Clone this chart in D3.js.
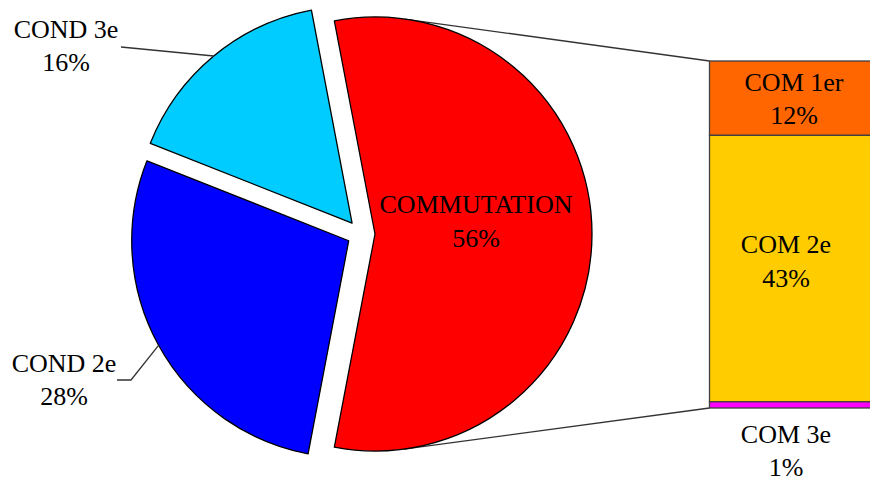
<!DOCTYPE html>
<html>
<head>
<meta charset="utf-8">
<script src="https://cdn.jsdelivr.net/npm/d3@7/dist/d3.min.js"></script>
<style>
  html, body { margin: 0; padding: 0; background: #fff; }
  svg { display: block; }
  text { font-family: "Liberation Serif", "Times New Roman", serif; font-size: 26px; fill: #000; }
</style>
</head>
<body>
<svg id="chart" width="870" height="482"></svg>
<script>
// Main pie: share of each category (%)
const pieLabels = ["COMMUTATION", "COND 2e", "COND 3e"];
const pieValues = [56, 28, 16];
const pieColors = ["#FF0000", "#0000FF", "#00CCFF"];

// Breakdown of COMMUTATION shown in the stacked bar (%)
const barLabels = ["COM 1er", "COM 2e", "COM 3e"];
const barValues = [12, 43, 1];
const barColors = ["#FF6600", "#FFCC00", "#FF00FF"];

const svg = d3.select("#chart");

const cx = 361, cy = 234, r = 217, explode = 14;
const barX0 = 709.5, barX1 = 872, barTop = 61, barBottom = 408;

// Rotate so the COMMUTATION slice faces the bar on the right
const total = d3.sum(pieValues);
const first = pieValues[0] / total;
const startAngle = Math.PI / 2 - first * Math.PI;

const pie = d3.pie().sort(null).value(d => d)
  .startAngle(startAngle).endAngle(startAngle + 2 * Math.PI);
const arcs = pie(pieValues);
const arc = d3.arc().innerRadius(0).outerRadius(r);

function offset(a) {
  const m = (a.startAngle + a.endAngle) / 2;
  return [explode * Math.sin(m), -explode * Math.cos(m)];
}

// Stacked bar scale
const y = d3.scaleLinear().domain([0, d3.sum(barValues)]).range([barTop, barBottom]);
let acc = 0;
const stacks = barValues.map((v, i) => { const s = { i, v, y0: acc, y1: acc + v }; acc += v; return s; });

// Connector lines: tangent from bar corners to the exploded COMMUTATION slice
const mainOff = offset(arcs[0]);
const mc = [cx + mainOff[0], cy + mainOff[1]];
function tangent(px, py, upper) {
  const dx = px - mc[0], dy = py - mc[1];
  const dist = Math.hypot(dx, dy);
  const base = Math.atan2(dy, dx);
  const t = Math.acos(r / dist);
  const ang = upper ? base - t : base + t;
  return [mc[0] + r * Math.cos(ang), mc[1] + r * Math.sin(ang)];
}
const tTop = tangent(barX0, y(0), true);
const tBot = tangent(barX0, y(d3.sum(barValues)), false);
svg.append("g").selectAll("line")
  .data([[tTop, [barX0, y(0)]], [tBot, [barX0, y(d3.sum(barValues))]]])
  .join("line")
  .attr("x1", d => d[0][0]).attr("y1", d => d[0][1])
  .attr("x2", d => d[1][0]).attr("y2", d => d[1][1])
  .attr("stroke", "#333").attr("stroke-width", 1.3);

// Pie slices
const gPie = svg.append("g").attr("transform", `translate(${cx},${cy})`);
gPie.selectAll("path").data(arcs).join("path")
  .attr("transform", d => `translate(${offset(d)[0]},${offset(d)[1]})`)
  .attr("d", arc)
  .attr("fill", (d, i) => pieColors[i])
  .attr("stroke", "#000").attr("stroke-width", 1.3).attr("stroke-linejoin", "round");

// Bar segments
svg.append("g").selectAll("rect").data(stacks).join("rect")
  .attr("x", barX0).attr("width", barX1 - barX0)
  .attr("y", d => y(d.y0)).attr("height", d => y(d.y1) - y(d.y0))
  .attr("fill", d => barColors[d.i])
  .attr("stroke", "#404040").attr("stroke-width", 1.3);

// Label helper: two-line centred text
function label(x, yb, lines) {
  const t = svg.append("text").attr("text-anchor", "middle");
  lines.forEach((s, k) => t.append("tspan").attr("x", x).attr("y", yb + k * 33.5).text(s));
}
const pct = v => `${Math.round(v / total * 100)}%`;

// Edge point of a slice at its mid angle
function edgePoint(a) {
  const m = (a.startAngle + a.endAngle) / 2;
  const o = offset(a);
  return [cx + o[0] + r * Math.sin(m), cy + o[1] - r * Math.cos(m)];
}

// Leader lines for outside labels
const e3 = edgePoint(arcs[2]);
const e2 = edgePoint(arcs[1]);
svg.append("path")
  .attr("d", `M${e3[0]},${e3[1]} L121,47`)
  .attr("fill", "none").attr("stroke", "#333").attr("stroke-width", 1.3);
svg.append("path")
  .attr("d", `M${e2[0]},${e2[1]} L131,380 L117,380`)
  .attr("fill", "none").attr("stroke", "#333").attr("stroke-width", 1.3);

label(476, 213, [pieLabels[0], pct(pieValues[0])]);
label(64, 371.5, [pieLabels[1], pct(pieValues[1])]);
label(66, 37.5, [pieLabels[2], pct(pieValues[2])]);

// Bar labels
label(794, 90.5, [barLabels[0], `${barValues[0]}%`]);
label(786, 253, [barLabels[1], `${barValues[1]}%`]);
label(786, 442.5, [barLabels[2], `${barValues[2]}%`]);
</script>
</body>
</html>
